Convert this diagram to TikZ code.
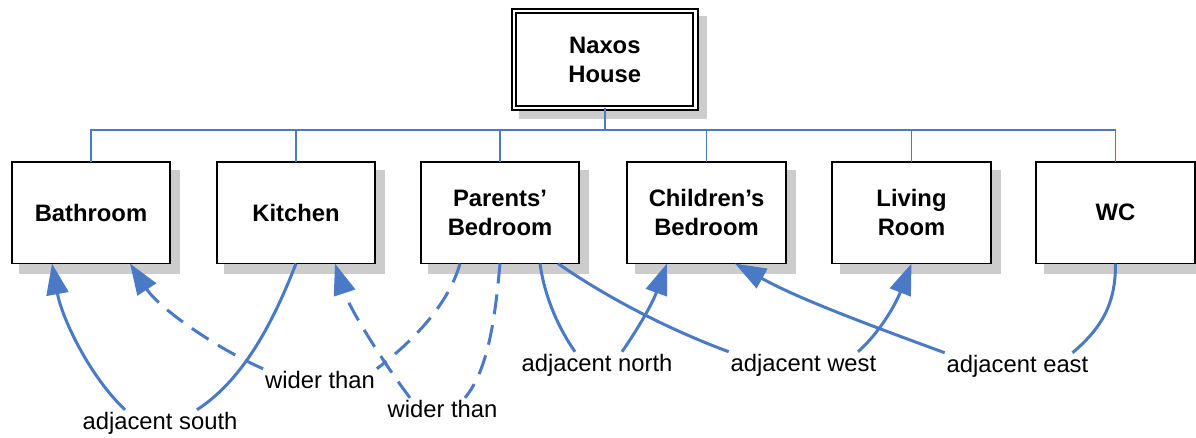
\documentclass[tikz,border=0pt]{standalone}
\usepackage{fontspec}
\setmainfont{Liberation Sans}
\usetikzlibrary{arrows.meta,backgrounds}
\definecolor{linkblue}{HTML}{4A7AC6}
\definecolor{shadowgrey}{HTML}{CCCCCC}
\begin{document}
\begin{tikzpicture}[x=1pt,y=-1pt,
  room/.style={draw, line width=1.8pt, fill=white, minimum width=158.5pt,
    minimum height=101.5pt, outer sep=0pt, inner sep=0pt, align=center,
    font=\fontsize{23.8}{29}\selectfont\bfseries},
  rel/.style={font=\fontsize{23.8}{29}\selectfont, inner sep=2pt,
    outer sep=0pt, anchor=base},
  bus/.style={draw=linkblue, line width=1.5pt},
  link/.style={draw=linkblue, line width=3pt},
  linkto/.style={link, -{Triangle[length=31pt,width=22pt]}},
  dashedlink/.style={dash pattern=on 20pt off 11pt},
]
\useasboundingbox (0,0) rectangle (1196,437);

% the house and its rooms
\node[room, double, double distance=2.5pt, line width=2pt,
      minimum width=181.5pt, minimum height=97pt] (house) at (604.8,59.6) {Naxos\\House};
\node[room] (bath)     at (91,212.8)     {Bathroom};
\node[room] (kitchen)  at (296,212.8)    {Kitchen};
\node[room] (parents)  at (500,212.8)    {Parents’\\Bedroom};
\node[room] (children) at (706.5,212.8)  {Children’s\\Bedroom};
\node[room] (living)   at (911.5,212.8)  {Living\\Room};
\node[room] (wc)       at (1115.5,212.8) {WC};

% drop shadows
\begin{scope}[on background layer]
  \fill[shadowgrey] ([shift={(5,4.5)}]house.north west) rectangle ([shift={(11.5,11)}]house.south east);
  \foreach \n in {bath,kitchen,parents,children,living,wc}
    \fill[shadowgrey] ([shift={(7.5,8)}]\n.north west) rectangle ([shift={(9.8,10.3)}]\n.south east);
\end{scope}

% containment bus
\coordinate (busline) at (0,130);
\draw[bus] (house.south) -- (house.south |- busline);
\draw[bus] (bath.north) -- (bath.north |- busline) -- (wc.north |- busline) -- (wc.north);
\foreach \n in {kitchen,parents,children,living}
  \draw[bus] (\n.north) -- (\n.north |- busline);

% relation labels
\node[rel] (adjsouth) at (160,429)    {adjacent south};
\node[rel] (wider1)   at (320,388)    {wider than};
\node[rel] (wider2)   at (442.5,417)  {wider than};
\node[rel] (adjnorth) at (597,371)    {adjacent north};
\node[rel] (adjwest)  at (803.5,371)  {adjacent west};
\node[rel] (adjeast)  at (1017.5,372) {adjacent east};

% kitchen adjacent south of bathroom
\draw[link] (kitchen.south) .. controls +(-26,67) and +(43,-28) .. ([xshift=37pt]adjsouth.north);
\draw[linkto] ([xshift=-35pt]adjsouth.north) .. controls +(-35,-33) and +(10,55) .. ([xshift=-39pt]bath.south);

% parents' bedroom wider than bathroom
\draw[link,dashedlink] ([xshift=-40pt]parents.south) .. controls +(-10,36) and +(43,-33) .. (wider1.north east);
\draw[linkto,dashedlink] (wider1.north west) .. controls +(-43,-18.6) and +(30,46) .. ([xshift=39pt]bath.south);

% parents' bedroom wider than kitchen
\draw[link,dashedlink] (parents.south) .. controls +(-5,56) and +(23,-27.6) .. ([xshift=22.5pt]wider2.north);
\draw[linkto,dashedlink] ([xshift=-32.5pt]wider2.north) .. controls +(-25,-32.6) and +(15,46) .. ([xshift=39pt]kitchen.south);

% parents' bedroom adjacent north of children's bedroom
\draw[link] ([xshift=40pt]parents.south) .. controls +(5,36) and +(-15,-21.6) .. ([xshift=-22pt]adjnorth.north);
\draw[linkto] ([xshift=25pt]adjnorth.north) .. controls +(15,-21.6) and +(-15,41) .. ([xshift=-39.5pt]children.south);

% parents' bedroom adjacent west of living room
\draw[link] ([xshift=58pt]parents.south) .. controls +(52,36) and +(-58,-21.6) .. (adjwest.north west);
\draw[linkto] ([xshift=54.5pt]adjwest.north) .. controls +(22,-19.6) and +(-16,41) .. (living.south);

% wc adjacent east of children's bedroom
\draw[link] (wc.south) .. controls +(0,37) and +(32.5,-27.6) .. ([xshift=55pt]adjeast.north);
\draw[linkto] (adjeast.north west) .. controls +(-75,-27.6) and +(65,36) .. ([xshift=28.5pt]children.south);
\end{tikzpicture}
\end{document}
